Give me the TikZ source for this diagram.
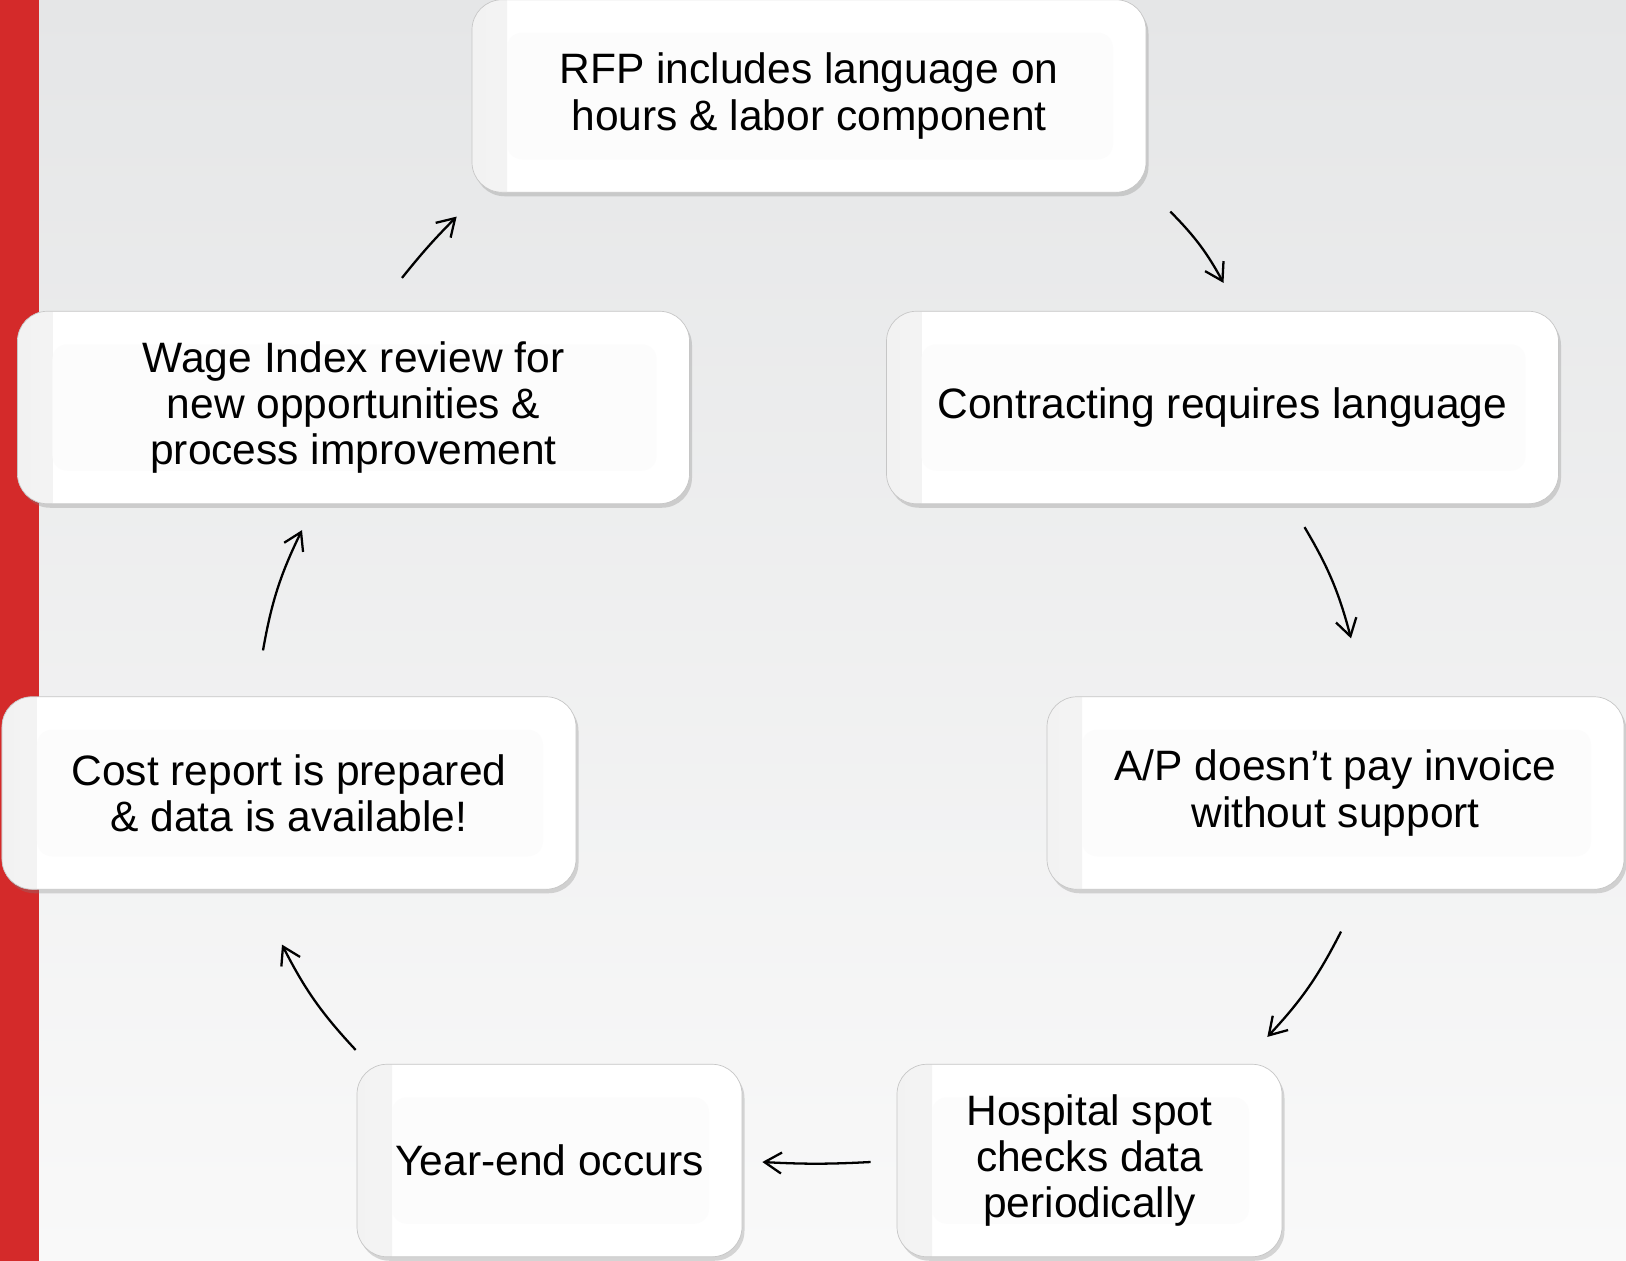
\documentclass[tikz,border=0pt]{standalone}
\usepackage{fontspec}
\setmainfont{Liberation Sans}
\usetikzlibrary{positioning,shadows,arrows.meta}
\tikzset{>={Straight Barb[length=3.4mm,width=4.2mm]}}
\definecolor{barred}{RGB}{212,42,42}
\definecolor{bgtop}{RGB}{229,230,231}
\definecolor{bgbot}{RGB}{249,249,249}
\tikzset{
  stage/.style={draw=gray!45, fill=white, rounded corners=0.6cm, minimum height=3.85cm, align=center,
    font=\fontsize{24.2pt}{26.2pt}\selectfont,
    drop shadow={opacity=0.3, shadow xshift=0.05cm, shadow yshift=-0.08cm},
    path picture={
      \shade[sharp corners, left color=gray!10, right color=white] (path picture bounding box.north west) rectangle ([xshift=0.7cm]path picture bounding box.south west);
      \fill[gray!2.5, rounded corners=0.3cm] ([xshift=0.7cm,yshift=-0.66cm]path picture bounding box.north west) rectangle ([xshift=-0.66cm,yshift=0.66cm]path picture bounding box.south east);
    }},
  flow/.style={->, line width=1.3pt}
}

\begin{document}
\begin{tikzpicture}
      \useasboundingbox (0,0) rectangle (32.52,-25.22);
      \shade[top color=bgtop, bottom color=bgbot] (0,0) rectangle (32.52,-25.22);
      \fill[barred] (0,0) rectangle (0.78,-25.22);
      \node[stage, minimum width=13.48cm] (rfp) at (16.18,-1.92) {RFP includes language on\\hours \& labor component};
      \coordinate[below of=rfp, node distance=6.23cm] (aux1);
      \node[stage, minimum width=13.44cm, right of=aux1, node distance=8.27cm] (contract) {Contracting requires language};
      \node[stage, minimum width=13.44cm, left of=aux1, node distance=9.11cm] (wage) {Wage Index review for\\new opportunities \&\\process improvement};
      \coordinate[below of=aux1, node distance=7.71cm] (aux2);
      \node[stage, minimum width=11.54cm, right of=aux2, node distance=10.53cm] (ap) {A/P doesn’t pay invoice\\without support};
      \node[stage, minimum width=11.48cm, left of=aux2, node distance=10.40cm] (cost) {Cost report is prepared\\\& data is available!};
      \coordinate[below of=aux2, node distance=7.35cm] (aux3);
      \node[stage, minimum width=7.7cm, right of=aux3, node distance=5.61cm] (spot) {Hospital spot\\checks data\\periodically};
      \node[stage, minimum width=7.7cm, left of=aux3, node distance=5.19cm] (yearend) {Year-end occurs};
      \draw[flow] ([shift={(0.48,-0.38)}]rfp.south east) to[bend left=8] ([shift={(0.02,0.56)}]contract.north);
      \draw[flow] ([shift={(1.64,-0.46)}]contract.south) to[bend left=8] ([shift={(0.31,1.16)}]ap.north);
      \draw[flow] ([shift={(0.11,-0.84)}]ap.south) to[bend left=8] ([shift={(-0.3,0.54)}]spot.north east);
      \draw[flow] ([shift={(-0.52,-0.03)}]spot.west) to[bend left=3] ([shift={(0.4,-0.03)}]yearend.east);
      \draw[flow] ([shift={(-0.02,0.28)}]yearend.north west) to[bend left=8] ([shift={(-0.14,-1.1)}]cost.south);
      \draw[flow] ([shift={(-0.52,0.92)}]cost.north) to[bend left=8] ([shift={(-1.03,-0.52)}]wage.south);
      \draw[flow] ([shift={(0.97,0.66)}]wage.north) to[bend left=3] ([shift={(-0.3,-0.48)}]rfp.south west);
    \end{tikzpicture}
\end{document}
